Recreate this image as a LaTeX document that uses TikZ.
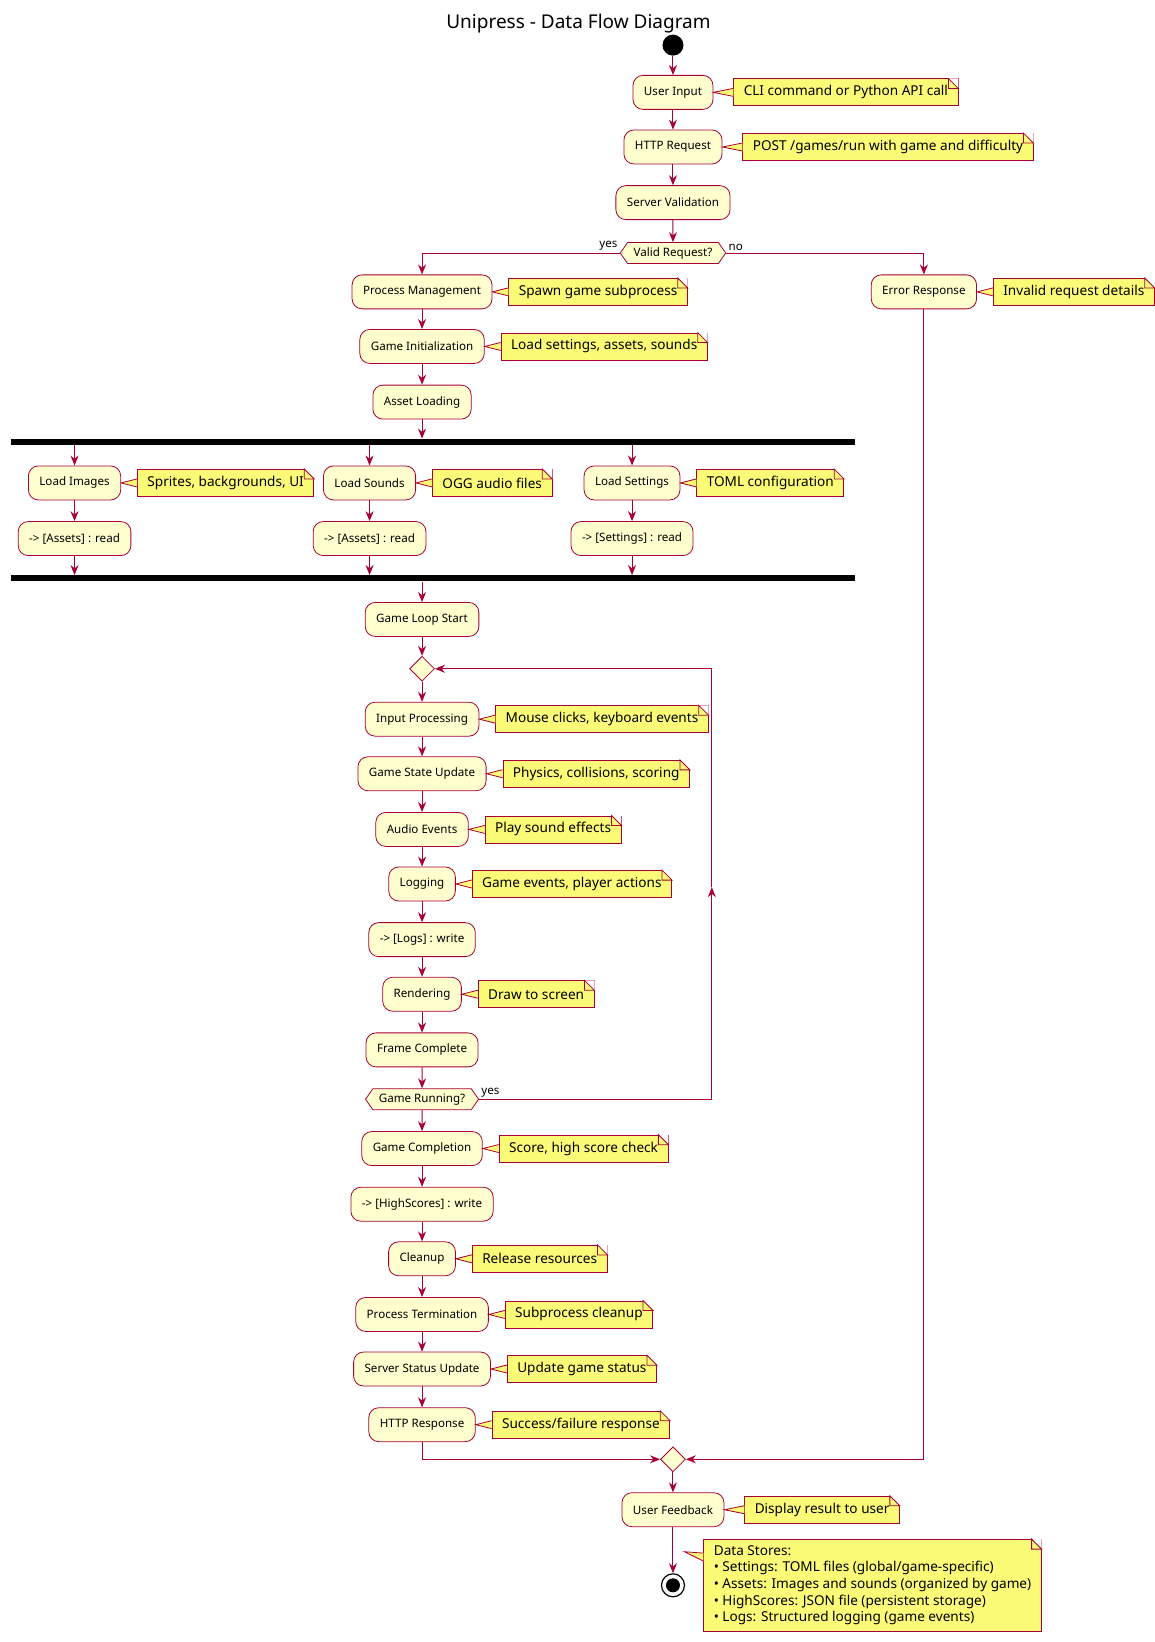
\documentclass[tikz,border=0pt]{standalone}
\usepackage{fontspec}
\setmainfont{Noto Sans}
\usetikzlibrary{positioning,shapes.geometric,shapes.symbols,arrows.meta}
\definecolor{umlred}{HTML}{A80036}
\definecolor{actfill}{HTML}{FEFECE}
\definecolor{notefill}{HTML}{FBFB77}
\tikzset{
  act/.style={draw=umlred, fill=actfill, rounded corners=5pt, minimum height=17pt,
    inner xsep=5.5pt, font=\fontsize{5.8}{7}\selectfont},
  cond/.style={draw=umlred, fill=actfill, signal, signal to=west and east,
    signal pointer angle=110, minimum height=10.5pt, inner xsep=3pt, inner ysep=1.5pt,
    font=\fontsize{5.8}{7}\selectfont},
  merge/.style={draw=umlred, fill=actfill, diamond, minimum size=12.5pt, inner sep=0pt},
  bar/.style={fill=black, minimum height=3pt, inner sep=0pt},
  notetext/.style={draw=umlred, fill=notefill, line width=0.4pt, minimum height=13.5pt,
    inner xsep=5pt, inner ysep=2pt, font=\fontsize{6.8}{8.3}\selectfont},
  noteshape/.style={draw=umlred, fill=notefill, line width=0.4pt},
  flow/.style={draw=umlred, line width=0.5pt, -{Stealth[length=5pt,width=4pt]}},
  line/.style={draw=umlred, line width=0.5pt},
  lbl/.style={font=\fontsize{5.8}{7}\selectfont, inner sep=1pt}
}
% folded corner of a note box
\newcommand{\noteear}[1]{%
  \fill[white] ([xshift=-5pt]#1.north east) -- (#1.north east)
    -- ([yshift=-5pt]#1.north east) -- cycle;
  \draw[noteshape] ([xshift=-5pt]#1.north east) -- ([yshift=-5pt]#1.north east)
    -- ([xshift=-5pt,yshift=-5pt]#1.north east) -- cycle;}
% wedge from the note's left side to its target
\newcommand{\notewedge}[2]{%
  \fill[notefill] ([yshift=-2.2pt]#1) -- (#2) -- ([yshift=2.2pt]#1) -- cycle;
  \draw[line, line width=0.4pt] ([yshift=-2pt]#1) -- (#2) -- ([yshift=2pt]#1);}
\newcommand{\drawnote}[2]{\noteear{#1}\notewedge{#1.west}{#2}}
\begin{document}
\begin{tikzpicture}[x=0.525pt, y=-0.525pt]
    \node[font=\fontsize{9.5}{11}\selectfont] (title) at (551,22) {Unipress - Data Flow Diagram};
    \node[circle, fill=black, minimum size=10.5pt, inner sep=0pt] (start) at (641,43) {};

    % request handling
    \node[act] (input) at (641,88) {User Input};
    \node[act] (httpreq) at (641,140) {HTTP Request};
    \node[act] (valid) at (641,193) {Server Validation};
    \node[cond] (isvalid) at (641,241) {Valid Request?};
    \node[act] (procmgmt) at (402,278) {Process Management};
    \node[act] (error) at (880,278) {Error Response};
    \node[act] (gameinit) at (402,330) {Game Initialization};
    \node[act] (assets) at (402,383) {Asset Loading};

    % parallel loading
    \node[bar, minimum width=422pt] (fork) at (412,421) {};
    \node[act] (images) at (71,460) {Load Images};
    \node[act] (sounds) at (352,460) {Load Sounds};
    \node[act] (settings) at (602,460) {Load Settings};
    \node[act] (imgread) at (71,513) {-> [Assets] : read};
    \node[act] (sndread) at (352,513) {-> [Assets] : read};
    \node[act] (setread) at (602,513) {-> [Settings] : read};
    \node[bar, minimum width=422pt] (join) at (412,551) {};

    % game loop
    \node[act] (loopstart) at (402,590) {Game Loop Start};
    \node[merge] (loop) at (402,637) {};
    \node[act] (inproc) at (402,685) {Input Processing};
    \node[act] (state) at (402,737) {Game State Update};
    \node[act] (audio) at (402,790) {Audio Events};
    \node[act] (logging) at (402,842) {Logging};
    \node[act] (logwrite) at (402,895) {-> [Logs] : write};
    \node[act] (render) at (402,947) {Rendering};
    \node[act] (frame) at (402,1000) {Frame Complete};
    \node[cond] (running) at (402,1047) {Game Running?};

    % shutdown
    \node[act] (complete) at (402,1094) {Game Completion};
    \node[act] (hswrite) at (402,1147) {-> [HighScores] : write};
    \node[act] (cleanup) at (402,1199) {Cleanup};
    \node[act] (termin) at (402,1252) {Process Termination};
    \node[act] (status) at (402,1304) {Server Status Update};
    \node[act] (httpresp) at (402,1357) {HTTP Response};
    \node[merge] (endmerge) at (641,1390) {};
    \node[act] (feedback) at (641,1438) {User Feedback};
    \node[circle, draw=black, line width=0.6pt, fill=white, minimum size=11.5pt, inner sep=0pt] (stop) at (641,1510) {};
    \node[circle, fill=black, minimum size=7pt, inner sep=0pt] at (stop) {};

    % notes
    \node[notetext, right=10pt of input] (n1) {CLI command or Python API call};
    \node[notetext, right=10pt of httpreq] (n2) {POST /games/run with game and difficulty};
    \node[notetext, right=8pt of procmgmt] (n3) {Spawn game subprocess};
    \node[notetext, right=8pt of error] (n4) {Invalid request details};
    \node[notetext, right=8pt of gameinit] (n5) {Load settings, assets, sounds};
    \node[notetext, right=8pt of images] (n6) {Sprites, backgrounds, UI};
    \node[notetext, right=8pt of sounds] (n7) {OGG audio files};
    \node[notetext, right=8pt of settings] (n8) {TOML configuration};
    \node[notetext, right=8pt of inproc] (n9) {Mouse clicks, keyboard events};
    \node[notetext, right=8pt of state] (n10) {Physics, collisions, scoring};
    \node[notetext, right=8pt of audio] (n11) {Play sound effects};
    \node[notetext, right=8pt of logging] (n12) {Game events, player actions};
    \node[notetext, right=8pt of render] (n13) {Draw to screen};
    \node[notetext, right=8pt of complete] (n14) {Score, high score check};
    \node[notetext, right=8pt of cleanup] (n15) {Release resources};
    \node[notetext, right=8pt of termin] (n16) {Subprocess cleanup};
    \node[notetext, right=8pt of status] (n17) {Update game status};
    \node[notetext, right=8pt of httpresp] (n18) {Success/failure response};
    \node[notetext, right=10pt of feedback] (n19) {Display result to user};
    \node[notetext, anchor=north west, align=left, inner ysep=3pt] (n20) at (670,1466)
      {Data Stores:\\
       • Settings: TOML files (global/game-specific)\\
       • Assets: Images and sounds (organized by game)\\
       • HighScores: JSON file (persistent storage)\\
       • Logs: Structured logging (game events)};
    \coordinate (n20tip) at (652,1478);
    \coordinate (n20side) at ([yshift=-9pt]n20.north west);

    \drawnote{n1}{input.east}
    \drawnote{n2}{httpreq.east}
    \drawnote{n3}{procmgmt.east}
    \drawnote{n4}{error.east}
    \drawnote{n5}{gameinit.east}
    \drawnote{n6}{images.east}
    \drawnote{n7}{sounds.east}
    \drawnote{n8}{settings.east}
    \drawnote{n9}{inproc.east}
    \drawnote{n10}{state.east}
    \drawnote{n11}{audio.east}
    \drawnote{n12}{logging.east}
    \drawnote{n13}{render.east}
    \drawnote{n14}{complete.east}
    \drawnote{n15}{cleanup.east}
    \drawnote{n16}{termin.east}
    \drawnote{n17}{status.east}
    \drawnote{n18}{httpresp.east}
    \drawnote{n19}{feedback.east}
    \noteear{n20}
    \notewedge{n20side}{n20tip}

    % connectors
    \draw[flow] (start) -- (input);
    \draw[flow] (input) -- (httpreq);
    \draw[flow] (httpreq) -- (valid);
    \draw[flow] (valid) -- (isvalid);
    \draw[flow] (isvalid.west) -| (procmgmt.north);
    \draw[flow] (isvalid.east) -| (error.north);
    \node[lbl, anchor=south east] at (isvalid.west) {yes};
    \node[lbl, anchor=south west] at (isvalid.east) {no};
    \draw[flow] (procmgmt) -- (gameinit);
    \draw[flow] (gameinit) -- (assets);
    \draw[flow] (assets) -- (fork.north -| assets);
    \foreach \a/\b in {images/imgread, sounds/sndread, settings/setread} {
      \draw[flow] (fork.south -| \a) -- (\a);
      \draw[flow] (\a) -- (\b);
      \draw[flow] (\b) -- (join.north -| \b);
    }
    \draw[flow] (join.south -| loopstart) -- (loopstart);
    \draw[flow] (loopstart) -- (loop);
    \foreach \a/\b in {loop/inproc, inproc/state, state/audio, audio/logging,
      logging/logwrite, logwrite/render, render/frame, frame/running,
      running/complete, complete/hswrite, hswrite/cleanup, cleanup/termin,
      termin/status, status/httpresp} {
      \draw[flow] (\a) -- (\b);
    }
    \coordinate (backlow) at (678,1047);
    \coordinate (backmid) at (678,845);
    \coordinate (backtop) at (678,637);
    \draw[line] (running.east) -- (backlow);
    \draw[flow] (backlow) -- (backmid);
    \draw[line] (backmid) -- (backtop);
    \draw[flow] (backtop) -- (loop.east);
    \node[lbl, anchor=south west] at (running.east) {yes};
    \draw[flow] (httpresp.south) |- (endmerge.west);
    \draw[flow] (error.south) |- (endmerge.east);
    \draw[flow] (endmerge) -- (feedback);
    \draw[flow] (feedback) -- (stop);

    \pgfresetboundingbox
    \path[use as bounding box] (0,0) rectangle (1100,1564);
\end{tikzpicture}
\end{document}
